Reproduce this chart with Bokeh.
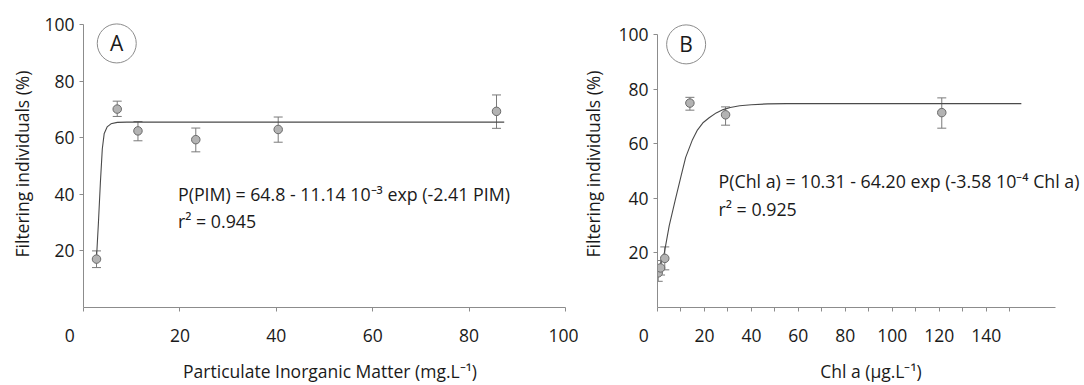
from bokeh.plotting import figure
from bokeh.layouts import row
from bokeh.models import (Range1d, FixedTicker, Whisker, TeeHead, ColumnDataSource, Label,
                          CustomJSTickFormatter)
from bokeh.embed import file_html
from bokeh.resources import INLINE

# ---- Panel A data (Particulate Inorganic Matter) ----
pim_x = [2.7, 7.0, 11.3, 23.3, 40.4, 85.7]
pim_y = [17.1, 70.1, 62.4, 59.3, 62.9, 69.3]
pim_hi = [20.0, 72.9, 65.7, 63.4, 67.3, 75.1]
pim_lo = [14.1, 67.5, 58.9, 55.0, 58.4, 63.3]
fitA_x = [2.7, 3.1, 3.5, 3.9, 4.3, 4.9, 5.7, 7.0, 9.0, 87.3]
fitA_y = [17.5, 30.0, 44.0, 56.0, 61.5, 63.8, 64.9, 65.4, 65.5, 65.5]

# ---- Panel B data (Chl a) ----
chl_x = [0.3, 1.3, 3.1, 13.8, 29.0, 121.1]
chl_y = [12.7, 14.5, 18.0, 74.9, 70.6, 71.4]
chl_hi = [15.3, 17.2, 22.2, 77.0, 73.5, 76.8]
chl_lo = [9.6, 11.9, 13.8, 72.3, 66.8, 65.7]
fitB_x = [0.5, 2.9, 5.0, 7.6, 10.0, 12.0, 14.9, 17.0, 19.5, 22.0, 25.0, 28.0, 31.0, 35.0, 40.0, 47.0, 55.0, 155.0]
fitB_y = [13.5, 20.0, 30.0, 39.5, 48.0, 55.0, 61.5, 65.0, 67.8, 69.5, 71.3, 72.5, 73.3, 73.9, 74.3, 74.6, 74.7, 74.7]

y_ticks = [20, 40, 60, 80, 100]
A_x_ticks = [0, 20, 40, 60, 80, 100]
B_x_ticks = [0, 10, 20, 30, 40, 50, 60, 70, 80, 90, 100, 110, 120, 130, 140, 150]
B_x_labelled = [0, 20, 40, 60, 80, 100, 120, 140]

ylab = "Filtering individuals (%)"
A_xlab = "Particulate Inorganic Matter (mg.L\u207b\u00b9)"
B_xlab = "Chl a (\u00b5g.L\u207b\u00b9)"
A_eq = "P(PIM) = 64.8 - 11.14 10\u207b\u00b3 exp (-2.41 PIM)"
A_r2 = "r\u00b2 = 0.945"
B_eq = "P(Chl a) = 10.31 - 64.20 exp (-3.58 10\u207b\u2074 Chl a)"
B_r2 = "r\u00b2 = 0.925"

FONT = "Open Sans"
AXC = "#8c8c8c"
TXT = "#1a1a1a"
TICK_FS = "17.5px"
TITLE_FS = "17.5px"
EQ_FS = "17.8px"

# the reference sets its "0" label a little left of the origin; unlabelled ticks get ""
FMT = ('if (labelled.indexOf(tick) < 0) { return ""; } '
       'return tick == 0 ? "0" + "\\u00a0".repeat(6) : tick.toString();')


def style(p, ylab_standoff, labelled):
    p.grid.visible = False
    p.outline_line_color = None
    for ax in (p.xaxis[0], p.yaxis[0]):
        ax.axis_line_color = AXC
        ax.major_tick_line_color = AXC
        ax.minor_tick_line_color = None
        ax.major_tick_in = 0
        ax.major_tick_out = 4
        ax.major_label_text_font = FONT
        ax.major_label_text_font_size = TICK_FS
        ax.major_label_text_color = TXT
        ax.axis_label_text_font = FONT
        ax.axis_label_text_font_size = TITLE_FS
        ax.axis_label_text_font_style = "normal"
        ax.axis_label_text_color = TXT
    p.xaxis[0].formatter = CustomJSTickFormatter(code=FMT, args=dict(labelled=labelled))
    p.yaxis[0].major_label_standoff = 5
    p.yaxis[0].axis_label_standoff = ylab_standoff
    p.xaxis[0].major_label_standoff = 11
    p.xaxis[0].axis_label_standoff = 9


def draw(p, xs, ys, hi, lo, fx, fy):
    src = ColumnDataSource(dict(x=xs, y=ys, hi=hi, lo=lo))
    w = Whisker(base="x", upper="hi", lower="lo", source=src, dimension="height",
                line_color="#7a7a7a", line_width=1,
                upper_head=TeeHead(size=9, line_color="#7a7a7a", line_width=1),
                lower_head=TeeHead(size=9, line_color="#7a7a7a", line_width=1))
    p.add_layout(w)
    p.line(fx, fy, line_color="#4a4a4a", line_width=1.1)
    p.scatter("x", "y", source=src, size=8.5, fill_color="#b3b3b3", line_color="#6a6a6a", line_width=1)


def panel_letter(p, x, y, letter):
    p.scatter([x], [y], size=39, fill_color="white", line_color="#8c8c8c", line_width=1)
    p.add_layout(Label(x=x, y=y, text=letter, text_align="center", text_baseline="middle",
                       text_font=FONT, text_font_size="21px", text_color=TXT))


def eq_label(p, x, y, text):
    p.add_layout(Label(x=x, y=y, text=text, text_align="left", text_baseline="middle",
                       text_font=FONT, text_font_size=EQ_FS, text_color=TXT))


# ---------------- Panel A ----------------
pA = figure(width=578, height=385, x_range=Range1d(0, 102.3), y_range=Range1d(0, 101.4),
            output_backend="svg", toolbar_location=None,
            min_border_left=83, min_border_right=2, min_border_top=20, min_border_bottom=72,
            x_axis_label=A_xlab, y_axis_label=ylab)
style(pA, 7, A_x_ticks)
pA.xaxis[0].ticker = FixedTicker(ticks=A_x_ticks)
pA.xaxis[0].bounds = (0, 100)
pA.yaxis[0].ticker = FixedTicker(ticks=y_ticks)
pA.yaxis[0].bounds = (0, 100)
draw(pA, pim_x, pim_y, pim_hi, pim_lo, fitA_x, fitA_y)
panel_letter(pA, 6.9, 93.3, "A")
eq_label(pA, 19.6, 40.1, A_eq)
eq_label(pA, 19.6, 30.4, A_r2)

# ---------------- Panel B ----------------
pB = figure(width=506, height=385, x_range=Range1d(0, 181.9), y_range=Range1d(0, 105.15),
            output_backend="svg", toolbar_location=None,
            min_border_left=75, min_border_right=0, min_border_top=20, min_border_bottom=73,
            x_axis_label=B_xlab, y_axis_label=ylab)
style(pB, 10, B_x_labelled)
pB.xaxis[0].ticker = FixedTicker(ticks=B_x_ticks)
pB.xaxis[0].bounds = (0, 169.5)
pB.yaxis[0].ticker = FixedTicker(ticks=y_ticks)
pB.yaxis[0].bounds = (0, 100)
draw(pB, chl_x, chl_y, chl_hi, chl_lo, fitB_x, fitB_y)
panel_letter(pB, 12.2, 96.4, "B")
eq_label(pB, 26.0, 46.5, B_eq)
eq_label(pB, 26.0, 36.0, B_r2)

layout = row(pA, pB)
open("out.html", "w").write(file_html(layout, INLINE))
